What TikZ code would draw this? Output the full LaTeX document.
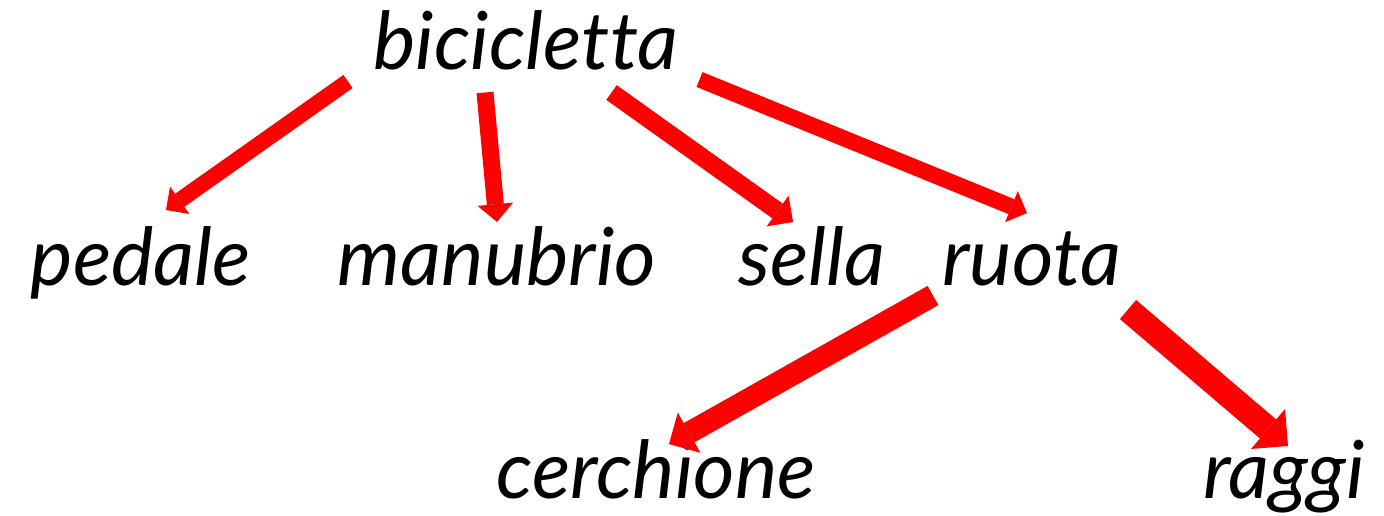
\documentclass[tikz,border=0pt]{standalone}
\usepackage{fontspec}
\setmainfont{Lato}[Ligatures=CommonOff]
\usetikzlibrary{arrows.meta}
\tikzset{
  word/.style={anchor=base, inner sep=0pt, font=\fontsize{80}{86}\selectfont\itshape, text=black},
  arr/.style={draw=red, line width=#1, -{Triangle[length=1.05*#1, width=2.1*#1, line width=0pt]}},
}
\begin{document}
\begin{tikzpicture}[x=1pt,y=1pt]
\useasboundingbox (0,0) rectangle (1384,515);
\node[word] (bici) at (526,445) {bicicletta};
\node[word] (ped) at (141,230) {pedale};
\node[word] (man) at (497,230) {manubrio};
\node[word] (sel) at (812,230) {sella};
\node[word] (ruo) at (1032,230) {ruota};
\node[word] (cer) at (656,17) {cerchione};
\node[word] (rag) at (1284,17) {raggi};
% arrow end points
\coordinate (b1) at (348,433.5); \coordinate (t1) at (166,305);
\coordinate (b2) at (485,422.5); \coordinate (t2) at (497,293);
\coordinate (b3) at (611.5,422.5); \coordinate (t3) at (793,293);
\coordinate (b4) at (699.5,435.5); \coordinate (t4) at (1027,302);
\coordinate (r5) at (933,219.5); \coordinate (t5) at (669,71);
\coordinate (r6) at (1128,205.5); \coordinate (t6) at (1288,69);
\draw[arr=16pt] (b1) -- (t1);
\draw[arr=17pt] (b2) -- (t2);
\draw[arr=18pt] (b3) -- (t3);
\draw[arr=16pt] (b4) -- (t4);
\draw[arr=22pt] (r5) -- (t5);
\draw[arr=25pt] (r6) -- (t6);
\end{tikzpicture}
\end{document}
